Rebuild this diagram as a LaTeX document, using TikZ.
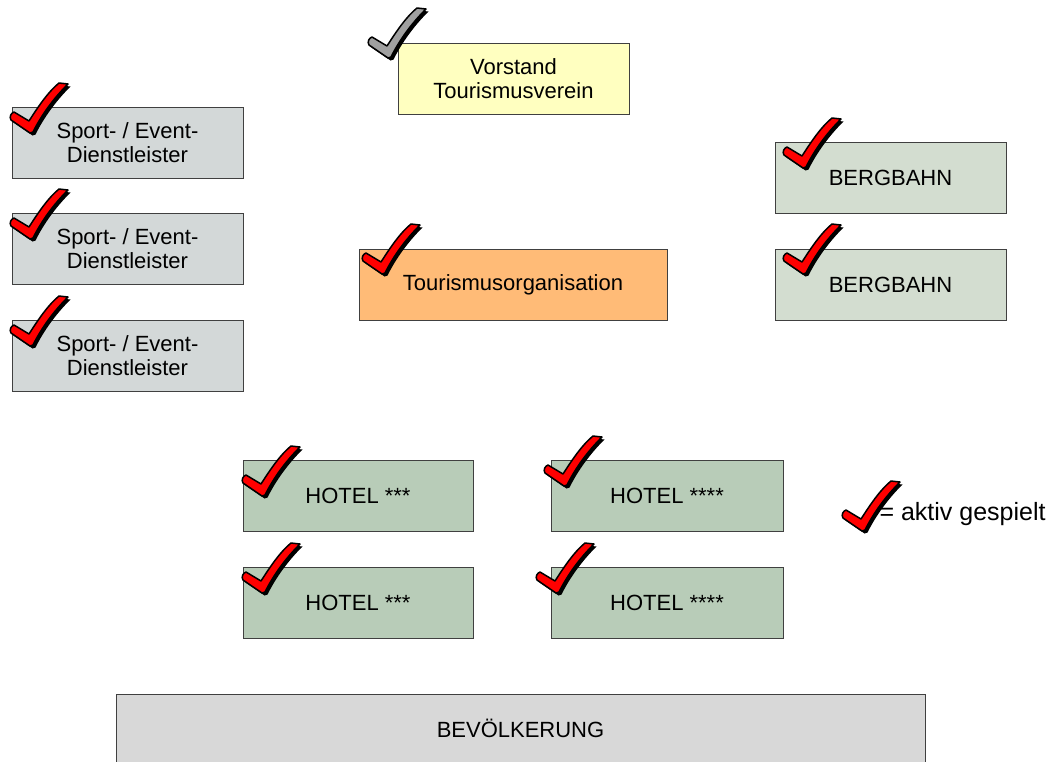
\documentclass[tikz,border=0pt]{standalone}
\usepackage{fontspec}
\setmainfont{Liberation Sans}
\usepackage{tikz}

\definecolor{vorstandgelb}{HTML}{FFFFC0}
\definecolor{sportgrau}{HTML}{D3D8D8}
\definecolor{berggruen}{HTML}{D3DDD0}
\definecolor{orgorange}{HTML}{FFBB77}
\definecolor{hotelgruen}{HTML}{B8CCB8}
\definecolor{volkgrau}{HTML}{D8D8D8}
\definecolor{rahmen}{HTML}{404040}
\definecolor{hakenrot}{HTML}{FF0000}
\definecolor{hakengrau}{HTML}{A0A0A0}

\tikzset{
  kasten/.style={draw=rahmen, line width=1pt, align=center,
    minimum width=231, minimum height=71, inner sep=0pt,
    font=\fontsize{22}{24}\selectfont},
  hakenform/.style={line join=round},
}

% Haken: Spitze unten bei (#1), Fuellfarbe #2
\newcommand{\haken}[2]{
  \begin{scope}[shift={(#1)}, hakenform]
    \fill [black, shift={(2.5,2.5)}] (0,1) -- (-19,-12) .. controls (-21,-15) and (-19,-19) .. (-16,-20) -- (-1,-11) .. controls (8,-25) and (18,-40) .. (29,-49) -- (38,-48) .. controls (24,-34) and (12,-18) .. (3,0) -- cycle;
    \filldraw [fill=#2, draw=black, line width=1.5pt] (0,1) -- (-19,-12) .. controls (-21,-15) and (-19,-19) .. (-16,-20) -- (-1,-11) .. controls (8,-25) and (18,-40) .. (29,-49) -- (38,-48) .. controls (24,-34) and (12,-18) .. (3,0) -- cycle;
  \end{scope}
}

\begin{document}
\begin{tikzpicture}[x=1pt, y=-1pt]
		\useasboundingbox (0,0) rectangle (1057,761);
		%Vorstand
		\node [kasten, fill=vorstandgelb] (vorstand) at (513.5,78.5) {Vorstand\\Tourismusverein};
		%Dienstleister
		\node [kasten, fill=sportgrau] (sporta) at (127.5,142.5) {Sport- / Event-\\Dienstleister};
		\node [kasten, fill=sportgrau] (sportb) at (127.5,248.5) {Sport- / Event-\\Dienstleister};
		\node [kasten, fill=sportgrau] (sportc) at (127.5,355.5) {Sport- / Event-\\Dienstleister};
		%Bergbahnen
		\node [kasten, fill=berggruen] (berga) at (890.5,177.5) {BERGBAHN};
		\node [kasten, fill=berggruen] (bergb) at (890.5,284.5) {BERGBAHN};
		%Organisation
		\node [kasten, fill=orgorange, minimum width=308] (org) at (513,284.5) {Tourismusorganisation};
		%Hotels
		\node [kasten, fill=hotelgruen, minimum width=230] (hoteldreia) at (358,495.5) {HOTEL ***};
		\node [kasten, fill=hotelgruen, minimum width=230] (hoteldreib) at (358,602.5) {HOTEL ***};
		\node [kasten, fill=hotelgruen, minimum width=232] (hotelviera) at (667,495.5) {HOTEL ****};
		\node [kasten, fill=hotelgruen, minimum width=232] (hotelvierb) at (667,602.5) {HOTEL ****};
		%Bevoelkerung
		\node [kasten, fill=volkgrau, minimum width=809, minimum height=68] (volk) at (520.5,728) {BEVÖLKERUNG};
		%Haken
		\haken{388,57}{hakengrau}
		\haken{30,132}{hakenrot}
		\haken{30,238}{hakenrot}
		\haken{30,345}{hakenrot}
		\haken{803,167}{hakenrot}
		\haken{803,273}{hakenrot}
		\haken{382,273}{hakenrot}
		\haken{262,495}{hakenrot}
		\haken{262,592}{hakenrot}
		\haken{564,485}{hakenrot}
		\haken{556,592}{hakenrot}
		%Legende
		\haken{862,530}{hakenrot}
		\node [anchor=west, font=\fontsize{25}{27}\selectfont] (legende) at (876,514) {= aktiv gespielt};
	\end{tikzpicture}
\end{document}
